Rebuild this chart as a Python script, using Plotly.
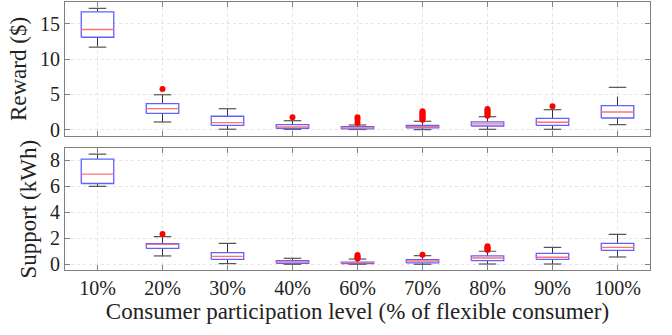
import plotly.graph_objects as go

categories = ["10%", "20%", "30%", "40%", "60%", "70%", "80%", "90%", "100%"]

# Reward ($)
rw_lower = [11.7, 1.09, 0.06, 0.05, 0.02, 0.0, 0.05, 0.05, 0.71]
rw_q1 = [13.1, 2.32, 0.62, 0.20, 0.10, 0.24, 0.52, 0.62, 1.65]
rw_med = [14.2, 2.97, 0.99, 0.38, 0.25, 0.43, 0.81, 1.05, 2.50]
rw_q3 = [16.7, 3.68, 1.90, 0.71, 0.42, 0.62, 1.09, 1.61, 3.40]
rw_upper = [17.2, 4.95, 2.97, 1.27, 0.66, 1.19, 1.84, 2.83, 6.00]
rw_out = [[], [5.76], [], [1.75], [1.75, 1.45, 0.95],
          [2.6, 2.45, 2.3, 2.15, 2.0, 1.85, 1.7, 1.55, 1.4],
          [2.93, 2.75, 2.55, 2.35, 2.15, 1.98], [3.31], []]

# Support (kWh)
sp_lower = [5.98, 0.64, 0.05, 0.0, 0.0, 0.0, 0.02, 0.02, 0.56]
sp_q1 = [6.20, 1.22, 0.38, 0.08, 0.05, 0.10, 0.28, 0.38, 1.07]
sp_med = [6.92, 1.53, 0.61, 0.18, 0.12, 0.25, 0.48, 0.54, 1.30]
sp_q3 = [8.07, 1.58, 0.89, 0.28, 0.17, 0.35, 0.64, 0.84, 1.61]
sp_upper = [8.45, 2.12, 1.61, 0.46, 0.40, 0.66, 1.00, 1.30, 2.30]
sp_out = [[], [2.32], [], [], [0.72, 0.6, 0.5, 0.45], [0.74],
          [1.38, 1.3, 1.22, 1.15, 1.1], [], []]

BOX_HALF = 0.25
CAP_HALF = 0.135
FONT = "Liberation Serif"

fig = go.Figure()


def add_panel(lower, q1, med, q3, upper, outs, xa, ya):
    wx, wy, cx, cy, bx, by, mx, my, ox, oy = [], [], [], [], [], [], [], [], [], []
    for i in range(len(categories)):
        wx += [i, i, None, i, i, None]
        wy += [q3[i], upper[i], None, q1[i], lower[i], None]
        cx += [i - CAP_HALF, i + CAP_HALF, None, i - CAP_HALF, i + CAP_HALF, None]
        cy += [upper[i], upper[i], None, lower[i], lower[i], None]
        bx += [i - BOX_HALF, i + BOX_HALF, i + BOX_HALF, i - BOX_HALF, i - BOX_HALF, None]
        by += [q1[i], q1[i], q3[i], q3[i], q1[i], None]
        mx += [i - BOX_HALF, i + BOX_HALF, None]
        my += [med[i], med[i], None]
        for v in outs[i]:
            ox.append(i)
            oy.append(v)
    common = dict(xaxis=xa, yaxis=ya, showlegend=False, hoverinfo="skip")
    fig.add_trace(go.Scatter(x=wx, y=wy, mode="lines",
                             line=dict(color="#333333", width=1, dash="dash"), **common))
    fig.add_trace(go.Scatter(x=cx, y=cy, mode="lines",
                             line=dict(color="#555555", width=1.2), **common))
    fig.add_trace(go.Scatter(x=bx, y=by, mode="lines", fill="toself",
                             fillcolor="rgba(255,255,255,1)",
                             line=dict(color="#6060ff", width=1.3), **common))
    fig.add_trace(go.Scatter(x=mx, y=my, mode="lines",
                             line=dict(color="#ff7070", width=1.3), **common))
    fig.add_trace(go.Scatter(x=ox, y=oy, mode="markers",
                             marker=dict(color="#ff0000", size=6), **common))


add_panel(rw_lower, rw_q1, rw_med, rw_q3, rw_upper, rw_out, "x", "y")
add_panel(sp_lower, sp_q1, sp_med, sp_q3, sp_upper, sp_out, "x2", "y2")


def axis_common():
    return dict(showline=True, linecolor="#808080", linewidth=1, mirror="ticks",
                ticks="inside", ticklen=5, tickcolor="#808080",
                showgrid=True, gridcolor="#e4e4e4", griddash="dot", gridwidth=1,
                zeroline=False,
                tickfont=dict(family=FONT, size=20, color="#222222"))


fig.update_layout(
    width=672, height=335,
    margin=dict(l=65, r=22, t=2, b=65),
    paper_bgcolor="white", plot_bgcolor="white",
    font=dict(family=FONT, size=20, color="#222222"),
    xaxis=dict(domain=[0, 1], range=[-0.5, 8.5], anchor="y",
               tickvals=list(range(len(categories))), ticktext=categories,
               showticklabels=False, **axis_common()),
    yaxis=dict(domain=[0.5, 1], range=[-0.9, 18.1], anchor="x",
               tickvals=[0, 5, 10, 15],
               title=dict(text="Reward ($)", font=dict(family=FONT, size=23), standoff=6),
               **axis_common()),
    xaxis2=dict(domain=[0, 1], range=[-0.5, 8.5], anchor="y2",
                tickvals=list(range(len(categories))), ticktext=categories,
                title=dict(text="Consumer participation level (% of flexible consumer)",
                           font=dict(family=FONT, size=23), standoff=2),
                **axis_common()),
    yaxis2=dict(domain=[0, 0.454], range=[-0.44, 8.9], anchor="x2",
                tickvals=[0, 2, 4, 6, 8],
                title=dict(text="Support (kWh)", font=dict(family=FONT, size=23), standoff=6),
                **axis_common()),
)

fig.write_html("out.html")
